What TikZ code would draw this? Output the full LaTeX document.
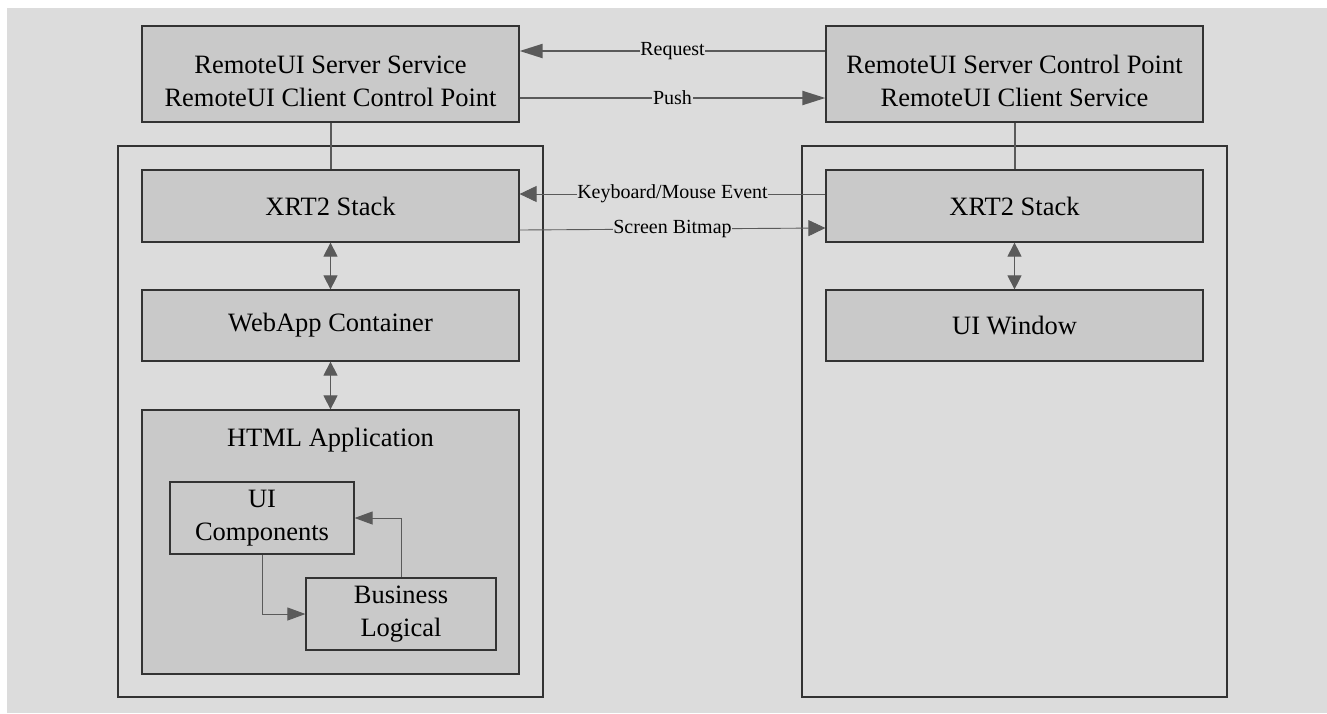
\documentclass[tikz,border=0pt]{standalone}
\usepackage{fontspec}
\setmainfont{Liberation Serif}
\usetikzlibrary{arrows.meta}

\definecolor{bggray}{HTML}{DCDCDC}
\definecolor{boxgray}{HTML}{C9C9C9}
\definecolor{linegray}{HTML}{5A5A5A}
\definecolor{edgegray}{HTML}{333333}

\newcommand{\twolines}[2]{\raisebox{-9pt}[\height][\depth]{\begin{tabular}{@{}c@{}}#1\\#2\end{tabular}}}

\begin{document}
\begin{tikzpicture}[x=1pt,y=-1pt,
   box/.style={draw=edgegray,line width=1.2pt,fill=boxgray,align=center,
     inner sep=0pt,font=\fontsize{26.5}{33}\selectfont},
   device/.style={draw=edgegray,line width=1.2pt,inner sep=0pt},
   msg/.style={fill=bggray,inner sep=0.6pt,font=\fontsize{20}{24}\selectfont}]

\tikzstyle {link} = [draw=linegray, line width=2pt];
\tikzstyle {slim} = [draw=linegray, line width=0.9pt];
\tikzstyle {bigtip} = [-{Triangle[length=23pt,width=14pt]}];
\tikzstyle {midtip} = [-{Triangle[length=17pt,width=16pt]}];
\tikzstyle {bothtip} = [{Triangle[length=14pt,width=14pt]}-{Triangle[length=14pt,width=14pt]}];
\tikzstyle {innertip} = [-{Triangle[length=18pt,width=13pt]}];

\useasboundingbox (0,0) rectangle (1327,713);
\fill[bggray] (7,8) rectangle (1327,713);

% the two devices
\node[device,minimum width=425pt,minimum height=551pt] (left) at (330.5,421.5) {};
\node[device,minimum width=425pt,minimum height=551pt] (right) at (1014.5,421.5) {};

\node[box,minimum width=377pt,minimum height=96pt] (rsrv) at (330.5,74)
   {\twolines{RemoteUI Server Service}{RemoteUI Client Control Point}};
\node[box,minimum width=377pt,minimum height=96pt] (rcli) at (1014.5,74)
   {\twolines{RemoteUI Server Control Point}{RemoteUI Client Service}};

\node[box,minimum width=377pt,minimum height=72pt] (xrtl) at (330.5,206) {XRT2 Stack};
\node[box,minimum width=377pt,minimum height=72pt] (xrtr) at (1014.5,206) {XRT2 Stack};
\node[box,minimum width=377pt,minimum height=71pt] (webapp) at (330.5,325.5) {WebApp Container};
\node[box,minimum width=377pt,minimum height=71pt] (uiwin) at (1014.5,325.5) {UI Window};

\node[box,minimum width=377pt,minimum height=264pt] (html) at (330.5,542) {};
\node[font=\fontsize{26.5}{33}\selectfont] (htmlt) at (330.5,440) {HTML Application};
\node[box,minimum width=184pt,minimum height=72pt] (uicomp) at (262,518) {UI\\Components};
\node[box,minimum width=190pt,minimum height=72pt] (bizlog) at (401,614) {Business\\Logical};

\draw[link] (rsrv) -- (xrtl);
\draw[link] (rcli) -- (xrtr);

\draw[link,bigtip] ([yshift=23pt]rcli.west) -- node[msg] {Request} ([yshift=23pt]rsrv.east);
\draw[link,bigtip] ([yshift=-24pt]rsrv.east) -- node[msg] {Push} ([yshift=-24pt]rcli.west);
\draw[slim,midtip] ([yshift=12pt]xrtr.west) -- node[msg] {Keyboard/Mouse Event} ([yshift=12pt]xrtl.east);
\draw[slim,midtip] ([yshift=-24pt]xrtl.east) -- node[msg] {Screen Bitmap} ([yshift=-22pt]xrtr.west);

\draw[slim,bothtip] (xrtl) -- (webapp);
\draw[slim,bothtip] (webapp) -- (html);
\draw[slim,bothtip] (xrtr) -- (uiwin);

\draw[slim,innertip] (uicomp.south) |- (bizlog.west);
\draw[slim,innertip] (bizlog.north) |- (uicomp.east);

\end{tikzpicture}
\end{document}
